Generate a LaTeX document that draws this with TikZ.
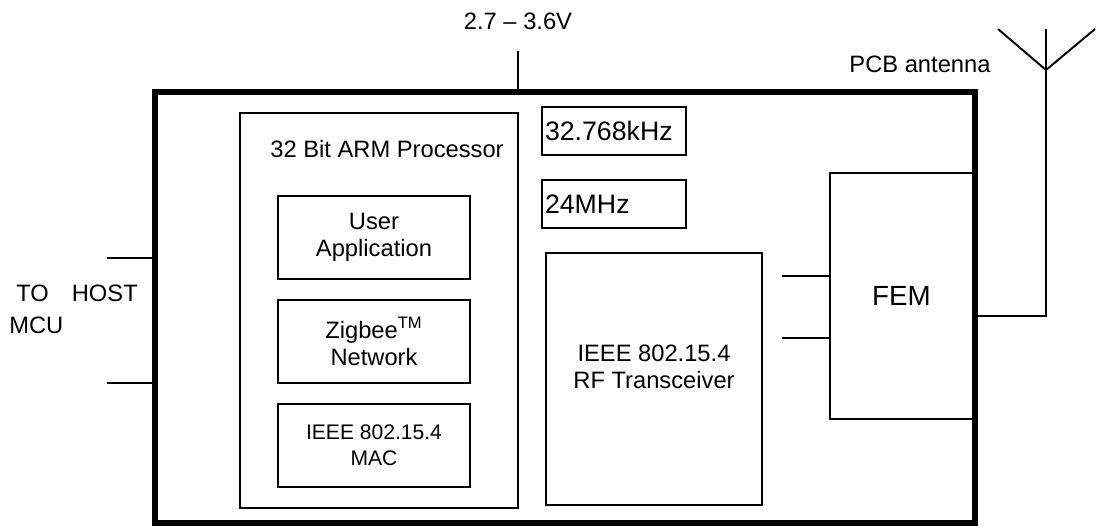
\documentclass[tikz,border=0pt]{standalone}
\usepackage{fontspec}
\setmainfont{Liberation Sans}
\usetikzlibrary{positioning}

\tikzset{
  blk/.style={draw, line width=1.3pt, inner sep=0pt, align=center},
  wire/.style={line width=1.1pt},
}

\begin{document}
\begin{tikzpicture}[x=0.02cm, y=-0.02cm, font=\fontsize{13.5}{15.4}\selectfont]

  \useasboundingbox (0,0) rectangle (1097,529);

  % module outline
  \node[draw, line width=3.4pt, minimum width=16.4cm, minimum height=8.62cm] (module) at (565,307.5) {};

  % processor and its stack
  \node[blk, minimum width=5.56cm, minimum height=7.9cm] (cpu) at (379,310.5) {};
  \node (cputxt) at (387,149) {32 Bit ARM Processor};
  \node[blk, minimum width=3.84cm, minimum height=1.66cm] (app) at (374,237.5) {User\\Application};
  \node[blk, minimum width=3.84cm, minimum height=1.66cm] (zb) at (374,341.5) {Zigbee\textsuperscript{TM}\\Network};
  \node[blk, minimum width=3.84cm, minimum height=1.66cm, font=\fontsize{12}{14.8}\selectfont] (mac) at (374,445.5) {IEEE 802.15.4\\MAC};

  % crystals
  \node[blk, inner xsep=0.06cm, text width=2.76cm, align=left, minimum height=0.96cm,
        font=\fontsize{15.2}{17}\selectfont] (xlo) at (614,131) {32.768kHz};
  \node[blk, inner xsep=0.06cm, text width=2.76cm, align=left, minimum height=0.96cm,
        font=\fontsize{15.2}{17}\selectfont] (xhi) at (614,204) {24MHz};

  % radio
  \node[blk, minimum width=4.32cm, minimum height=5.04cm] (rf) at (654,379) {};
  \node[align=center] (rftxt) at (654,366.5) {IEEE 802.15.4\\RF Transceiver};

  \node[draw, line width=1.1pt, minimum width=2.86cm, minimum height=4.92cm,
        font=\fontsize{15.8}{18}\selectfont] (fem) at (901.5,296) {FEM};

  \coordinate (rf1) at (782,276);
  \coordinate (rf2) at (782,338);
  \draw[wire] (rf1) -- (rf1 -| fem.west);
  \draw[wire] (rf2) -- (rf2 -| fem.west);

  % host side
  \coordinate (h1) at (107,258);
  \coordinate (h2) at (107,383);
  \draw[wire] (h1) -- (h1 -| module.west);
  \draw[wire] (h2) -- (h2 -| module.west);
  \node[anchor=west, align=left, inner sep=0pt] (host) at (9,309) {\hspace{0.14cm}TO\hspace{0.46cm}HOST\\[0.1cm]MCU};

  % supply
  \node (vcc) at (518,21) {2.7 -- 3.6V};
  \coordinate (vtop) at (518,51);
  \draw[wire] (vtop) -- (vtop |- module.north);

  % antenna
  \coordinate (feed) at (1046,316);
  \coordinate (fp) at (975,316);
  \coordinate (apex) at (1046,70);
  \coordinate (atop) at (1046,29);
  \coordinate (al) at (998,29);
  \coordinate (ar) at (1095,29);
  \draw[wire] (fp) -- (feed) -- (atop);
  \draw[wire] (al) -- (apex) -- (ar);
  \node (anttxt) at (920,64) {PCB antenna};

\end{tikzpicture}
\end{document}
